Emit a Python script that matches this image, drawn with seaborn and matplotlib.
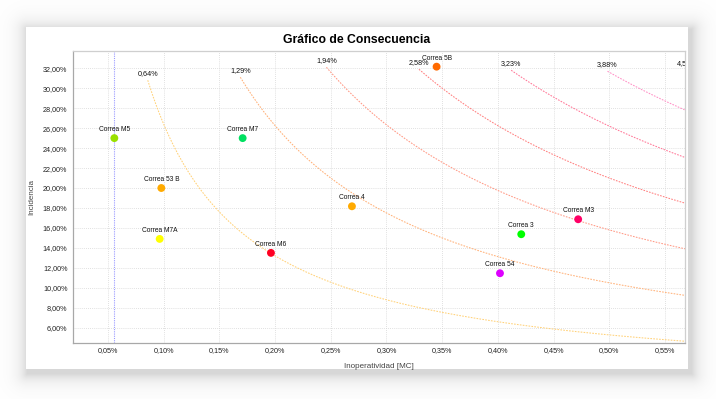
import numpy as np
import matplotlib
matplotlib.use("Agg")
import matplotlib.pyplot as plt
import seaborn as sns
from matplotlib.ticker import FuncFormatter, MultipleLocator
from matplotlib.patches import Rectangle

# data
names = ["Correa M5", "Correa M7", "Correa 53 B", "Correa M7A", "Correa M6",
         "Correa 4", "Correa 5B", "Correa M3", "Correa 3", "Correa 54"]
inoperatividad = [0.0557, 0.1709, 0.0979, 0.0964, 0.1963,
                  0.2690, 0.3450, 0.4721, 0.4210, 0.4019]
incidencia = [25.00, 25.00, 20.00, 14.90, 13.50,
              18.17, 32.16, 16.87, 15.37, 11.46]
point_colors = ["#99e000", "#00e060", "#ffaa00", "#ffff00", "#ff0022",
                "#ffaa00", "#ff6a00", "#ff0066", "#00ff00", "#dd00ff"]

# iso-consequence curves (inoperatividad * incidencia = const)
iso_labels = ["0,64%", "1,29%", "1,94%", "2,58%", "3,23%", "3,88%", "4,52%"]
iso_const = [2.64, 5.25, 7.90, 10.50, 13.10, 15.80, 18.10]
iso_start_y = [30.8, 31.1, 32.1, 31.9, 31.8, 31.7, 31.75]
iso_colors = ["#ffd27a", "#ffb27a", "#ff9a86", "#ff8080", "#ff7898", "#ff90c6", "#ff98cc"]

threshold_inop = 0.0557

x_lim = (0.0186, 0.568)
y_lim = (4.47, 33.73)


def pct(v, pos):
    return f"{v:.2f}%".replace(".", ",")


sns.set_theme(style="white")
plt.rcParams["font.family"] = ["Liberation Sans", "DejaVu Sans"]

W, H = 716, 399
fig = plt.figure(figsize=(W / 100, H / 100), dpi=100)
fig.patch.set_facecolor("white")

# soft drop shadow behind the card
bg = fig.add_axes([0, 0, 1, 1], zorder=-10)
bg.set_axis_off()
card = (26, 27, 688, 369)
xx, yy = np.meshgrid(np.arange(W) + 0.5, np.arange(H) + 0.5)
sl, st, sr, sb = card[0] + 1, card[1] + 2, card[2] + 4, card[3] + 5
dx = np.maximum(np.maximum(sl - xx, xx - sr), 0)
dy = np.maximum(np.maximum(st - yy, yy - sb), 0)
d = np.sqrt(dx ** 2 + dy ** 2)
shade = 0.17 * np.exp(-d / 8.0)
img = np.ones((H, W, 3)) * (1 - shade[..., None] * 0.9)
bg.imshow(img, extent=(0, W, H, 0), aspect="auto")
bg.add_patch(Rectangle((card[0], card[1]), card[2] - card[0], card[3] - card[1],
                       facecolor="white", edgecolor="none"))
bg.set_xlim(0, W)
bg.set_ylim(H, 0)

ax = fig.add_axes([73 / W, (H - 343) / H, (685 - 73) / W, (343 - 51) / H])
ax.set_facecolor("white")

# grid
ax.grid(True, color="#d6d6d6", linestyle=(0, (1, 1.5)), linewidth=0.6)
ax.set_axisbelow(True)

# iso curves
for c, lab, y0, col in zip(iso_const, iso_labels, iso_start_y, iso_colors):
    x0 = c / y0
    xs = np.linspace(x0, x_lim[1] + 0.01, 200)
    ax.plot(xs, c / xs, color=col, linestyle=(0, (1.6, 1.2)), linewidth=0.75, zorder=2)
    ax.text(x0, y0 + 0.7, lab, ha="center", va="center", fontsize=5.2,
            color="#111111", clip_on=True, zorder=4)

ax.axvline(threshold_inop, color="#9a9aff", linestyle=(0, (1, 1)), linewidth=0.8, zorder=2)

sns.scatterplot(x=inoperatividad, y=incidencia, hue=names,
                palette=dict(zip(names, point_colors)), legend=False,
                s=32, edgecolor="none", ax=ax, zorder=5)
for n, xv, yv in zip(names, inoperatividad, incidencia):
    ax.annotate(n, (xv, yv), xytext=(0, 3.5), textcoords="offset points",
                ha="center", va="bottom", fontsize=4.8, color="#111111", zorder=6)

ax.set_xlim(*x_lim)
ax.set_ylim(*y_lim)
ax.xaxis.set_major_locator(MultipleLocator(0.05))
ax.yaxis.set_major_locator(MultipleLocator(2))
ax.xaxis.set_major_formatter(FuncFormatter(pct))
ax.yaxis.set_major_formatter(FuncFormatter(pct))
ax.tick_params(axis="both", length=0, labelsize=5.2, colors="#222222")
ax.tick_params(axis="x", pad=3)
ax.tick_params(axis="y", pad=4)

for side in ["top", "right"]:
    ax.spines[side].set_color("#cfcfcf")
for side in ["left", "bottom"]:
    ax.spines[side].set_color("#a8a8a8")
for s in ax.spines.values():
    s.set_linewidth(0.9)

ax.set_xlabel("Inoperatividad [MC]", fontsize=5.8, color="#444444")
ax.set_ylabel("Incidencia", fontsize=5.8, color="#444444")
ax.xaxis.set_label_coords(0.5, -0.068)
ax.yaxis.set_label_coords(-0.062, 0.5)

fig.text(357 / W, 1 - 40 / H, "Gráfico de Consecuencia", ha="center", va="center",
         fontsize=8.8, fontweight="bold", color="#000000")

fig.savefig("out.png", dpi=100, facecolor="white")
